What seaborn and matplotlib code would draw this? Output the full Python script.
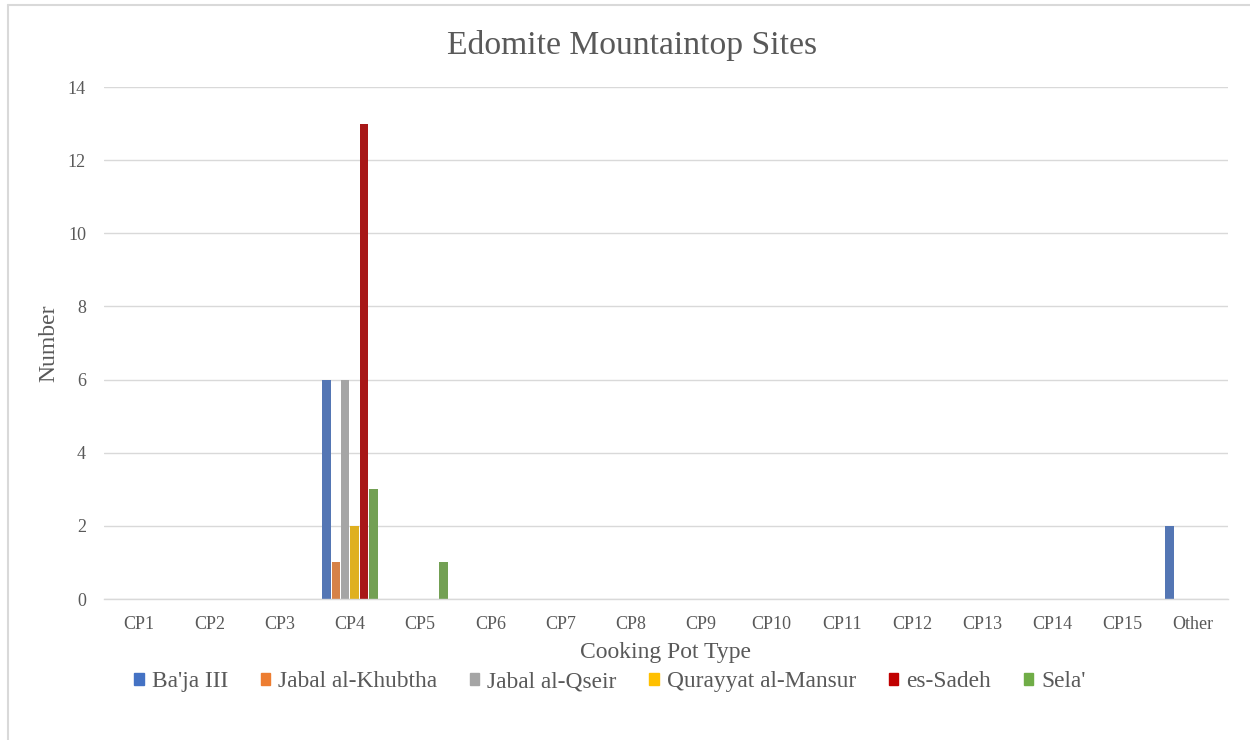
import matplotlib
matplotlib.use("Agg")
import matplotlib.pyplot as plt
from matplotlib.lines import Line2D
import seaborn as sns
import pandas as pd

# Cooking pot types on the x axis
categories = ["CP1", "CP2", "CP3", "CP4", "CP5", "CP6", "CP7", "CP8",
              "CP9", "CP10", "CP11", "CP12", "CP13", "CP14", "CP15", "Other"]

# Counts per site (one value per category)
baja_iii = [0, 0, 0, 6, 0, 0, 0, 0, 0, 0, 0, 0, 0, 0, 0, 2]
jabal_khubtha = [0, 0, 0, 1, 0, 0, 0, 0, 0, 0, 0, 0, 0, 0, 0, 0]
jabal_qseir = [0, 0, 0, 6, 0, 0, 0, 0, 0, 0, 0, 0, 0, 0, 0, 0]
qurayyat_mansur = [0, 0, 0, 2, 0, 0, 0, 0, 0, 0, 0, 0, 0, 0, 0, 0]
es_sadeh = [0, 0, 0, 13, 0, 0, 0, 0, 0, 0, 0, 0, 0, 0, 0, 0]
sela = [0, 0, 0, 3, 1, 0, 0, 0, 0, 0, 0, 0, 0, 0, 0, 0]

sites = ["Ba'ja III", "Jabal al-Khubtha", "Jabal al-Qseir",
         "Qurayyat al-Mansur", "es-Sadeh", "Sela'"]
series = [baja_iii, jabal_khubtha, jabal_qseir, qurayyat_mansur, es_sadeh, sela]
colors = ["#4472C4", "#ED7D31", "#A5A5A5", "#FFC000", "#C00000", "#70AD47"]

rows = []
for site, vals in zip(sites, series):
    for cat, v in zip(categories, vals):
        rows.append({"Cooking Pot Type": cat, "Site": site, "Number": v})
df = pd.DataFrame(rows)

sns.set_theme(style="white")
plt.rcParams["font.family"] = ["Liberation Serif", "DejaVu Serif"]
text_color = "#595959"

fig = plt.figure(figsize=(12.5, 7.4), dpi=100)
ax = fig.add_axes([0.0832, 0.1905, 0.8992, 0.6919])

sns.barplot(data=df, x="Cooking Pot Type", y="Number", hue="Site",
            order=categories, hue_order=sites, palette=colors,
            width=0.8, gap=0.1, linewidth=0, errorbar=None, ax=ax,
            legend=False)

ax.set_ylim(0, 14)
ax.set_yticks(range(0, 15, 2))
ax.yaxis.grid(True, color="#D9D9D9", linewidth=1)
ax.set_axisbelow(True)
for side in ["top", "right", "left"]:
    ax.spines[side].set_visible(False)
ax.spines["bottom"].set_color("#D9D9D9")
ax.spines["bottom"].set_linewidth(1)
ax.tick_params(axis="both", length=0, labelsize=13, labelcolor=text_color)
ax.tick_params(axis="x", pad=12)
ax.tick_params(axis="y", pad=13)

ax.set_xlabel("Cooking Pot Type", fontsize=17, color=text_color, labelpad=7)
ax.set_ylabel("Number", fontsize=17, color=text_color, labelpad=6)
fig.text(0.506, 0.939, "Edomite Mountaintop Sites", fontsize=24.2,
         color=text_color, ha="center", va="center")

handles = [plt.Rectangle((0, 0), 1, 1, color=c) for c in colors]
fig.legend(handles, sites, loc="center", bbox_to_anchor=(0.488, 0.079),
           ncol=6, frameon=False, fontsize=16.8, handlelength=0.4,
           handleheight=0.4, handletextpad=0.35, columnspacing=1.4,
           labelcolor=text_color)

# Outer frame lines on the left and top edges
fig.add_artist(Line2D([0.0064, 0.0064], [0, 0.9932], transform=fig.transFigure,
                      color="#D9D9D9", linewidth=1.5))
fig.add_artist(Line2D([0.0064, 1.0], [0.9932, 0.9932], transform=fig.transFigure,
                      color="#D9D9D9", linewidth=1.5))

fig.savefig("out.png", dpi=100, facecolor="white")
